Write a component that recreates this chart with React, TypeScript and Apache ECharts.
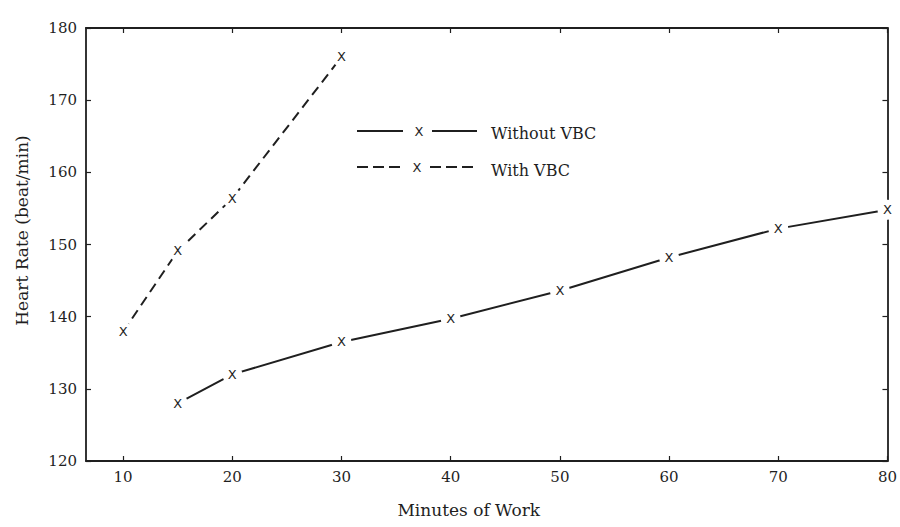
import React, { useEffect, useRef } from "react";
import * as echarts from "echarts";

// Minutes of work at which heart rate was sampled, and the readings (beat/min)
const minutesWithout = [15, 20, 30, 40, 50, 60, 70, 80];
const heartWithout = [128, 132, 136.5, 139.7, 143.6, 148.2, 152.2, 154.8];

const minutesWith = [10, 15, 20, 30];
const heartWith = [137.9, 149.1, 156.4, 176];

// Tick labels along the axes
const minuteTicks = [10, 20, 30, 40, 50, 60, 70, 80];
const heartTicks = [120, 130, 140, 150, 160, 170, 180];

const seriesNames = ["Without VBC", "With VBC"];

const INK = "#1f1f1f";
const SERIF = "'DejaVu Serif', 'Liberation Serif', serif";
const MARK_FONT = "'DejaVu Sans', sans-serif";

const zip = (xs: number[], ys: number[]) => xs.map((x, i) => [x, ys[i]]);

export default function App() {
  const ref = useRef<HTMLDivElement>(null);

  useEffect(() => {
    if (!ref.current) return;
    const chart = echarts.init(ref.current, null, { renderer: "svg" });

    // "X" plotting marks on a white disc, which breaks the line around each point
    const markSeries = (name: string, data: number[][]) => ({
      name,
      type: "scatter" as const,
      data,
      symbol: "circle",
      symbolSize: 20,
      itemStyle: { color: "#ffffff", borderWidth: 0, opacity: 1 },
      label: {
        show: true,
        formatter: "X",
        position: "inside" as const,
        fontSize: 13,
        fontFamily: MARK_FONT,
        color: INK,
      },
      z: 5,
      silent: true,
    });

    const baseX = {
      type: "value" as const,
      min: 6.6,
      max: 80,
      splitLine: { show: false },
      axisLine: { show: true, lineStyle: { color: INK, width: 1.8 } },
    };
    const baseY = {
      type: "value" as const,
      min: heartTicks[0],
      max: heartTicks[heartTicks.length - 1],
      interval: 10,
      splitLine: { show: false },
      axisLine: { show: true, lineStyle: { color: INK, width: 1.8 } },
    };
    const tickStyle = { color: INK, width: 1.2 };

    chart.setOption({
      animation: false,
      backgroundColor: "#ffffff",
      grid: { left: 86, right: 12, top: 28, bottom: 66, containLabel: false },
      xAxis: [
        {
          ...baseX,
          position: "bottom",
          name: "Minutes of Work",
          nameLocation: "middle",
          nameGap: 40,
          nameTextStyle: {
            fontFamily: SERIF,
            fontSize: 17,
            color: INK,
            padding: [0, 36, 0, 0],
          },
          axisTick: { show: true, inside: true, length: 5, customValues: minuteTicks, lineStyle: tickStyle },
          axisLabel: {
            show: true,
            customValues: minuteTicks,
            margin: 8,
            fontFamily: SERIF,
            fontSize: 15,
            color: INK,
          },
        },
        {
          ...baseX,
          position: "top",
          axisTick: { show: true, inside: true, length: 5, customValues: minuteTicks, lineStyle: tickStyle },
          axisLabel: { show: false },
        },
      ],
      yAxis: [
        {
          ...baseY,
          position: "left",
          name: "Heart Rate (beat/min)",
          nameLocation: "middle",
          nameGap: 56,
          nameTextStyle: {
            fontFamily: SERIF,
            fontSize: 17,
            color: INK,
            padding: [0, 0, 0, 28],
          },
          axisTick: { show: true, inside: true, length: 5, lineStyle: tickStyle },
          axisLabel: {
            show: true,
            margin: 9,
            fontFamily: SERIF,
            fontSize: 15,
            color: INK,
          },
        },
        {
          ...baseY,
          position: "right",
          axisTick: { show: true, inside: true, length: 5, lineStyle: tickStyle },
          axisLabel: { show: false },
        },
      ],
      series: [
        {
          name: seriesNames[0],
          type: "line",
          data: zip(minutesWithout, heartWithout),
          symbol: "none",
          lineStyle: { color: INK, width: 2, type: "solid" },
          z: 2,
          silent: true,
        },
        {
          name: seriesNames[1],
          type: "line",
          data: zip(minutesWith, heartWith),
          symbol: "none",
          lineStyle: { color: INK, width: 2, type: [10, 6] },
          z: 2,
          silent: true,
        },
        markSeries(seriesNames[0], zip(minutesWithout, heartWithout)),
        markSeries(seriesNames[1], zip(minutesWith, heartWith)),
      ],
      graphic: [
        // key: solid line — X — solid line
        { type: "line", shape: { x1: 357, y1: 131, x2: 403, y2: 131 }, style: { stroke: INK, lineWidth: 2 } },
        {
          type: "text",
          x: 419,
          y: 131,
          style: { text: "X", fontSize: 13, fontFamily: MARK_FONT, fill: INK, align: "center", verticalAlign: "middle", textAlign: "center", textVerticalAlign: "middle" },
        },
        { type: "line", shape: { x1: 432, y1: 131, x2: 477, y2: 131 }, style: { stroke: INK, lineWidth: 2 } },
        {
          type: "text",
          x: 491,
          y: 133,
          style: { text: seriesNames[0], fontSize: 16, fontFamily: SERIF, fill: INK, align: "left", verticalAlign: "middle", textAlign: "left", textVerticalAlign: "middle" },
        },
        // key: dashed line — X — dashed line
        { type: "line", shape: { x1: 357, y1: 167, x2: 403, y2: 167 }, style: { stroke: INK, lineWidth: 2, lineDash: [11, 5] } },
        {
          type: "text",
          x: 417,
          y: 167,
          style: { text: "X", fontSize: 13, fontFamily: MARK_FONT, fill: INK, align: "center", verticalAlign: "middle", textAlign: "center", textVerticalAlign: "middle" },
        },
        { type: "line", shape: { x1: 430, y1: 167, x2: 476, y2: 167 }, style: { stroke: INK, lineWidth: 2, lineDash: [11, 5] } },
        {
          type: "text",
          x: 491,
          y: 170,
          style: { text: seriesNames[1], fontSize: 16, fontFamily: SERIF, fill: INK, align: "left", verticalAlign: "middle", textAlign: "left", textVerticalAlign: "middle" },
        },
      ],
    });

    return () => chart.dispose();
  }, []);

  return (
    <div
      ref={ref}
      style={{ position: "fixed", left: 0, top: 0, width: 900, height: 527, background: "#fff" }}
    />
  );
}
